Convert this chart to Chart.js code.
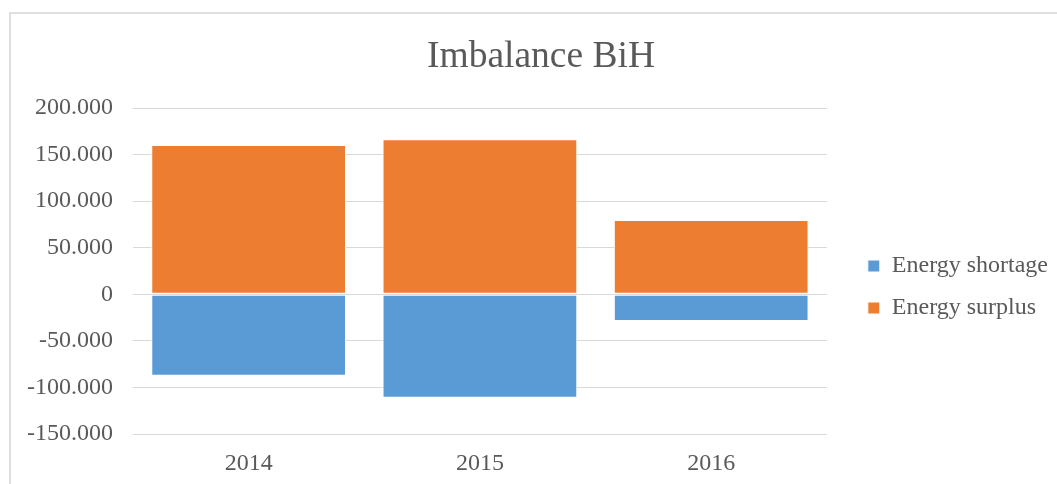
<!DOCTYPE html>
<html>
<head>
<meta charset="utf-8">
<script src="https://cdn.jsdelivr.net/npm/chart.js@4.4.1/dist/chart.umd.min.js"></script>
<style>
  html, body { margin: 0; padding: 0; background: #fff; overflow: hidden; width: 1057px; height: 484px; position: relative; }
  #frame { position: absolute; left: 9px; top: 12px; width: 1060px; height: 480px;
           border-left: 2px solid #dedede; border-top: 2px solid #dedede; background: #fff; }
  #c { position: absolute; left: 7px; top: 14px; display: block; }
</style>
</head>
<body>
<div id="frame"></div>
<canvas id="c" width="1050" height="480"></canvas>
<script>
const chartTitle = "Imbalance BiH";
const categories = ["2014", "2015", "2016"];
const seriesNames = ["Energy shortage", "Energy surplus"];
const energyShortage = [-87400, -111000, -28700];
const energySurplus = [160300, 166400, 79800];
const yTicks = [-150000, -100000, -50000, 0, 50000, 100000, 150000, 200000];

const FONT = "'Liberation Serif', 'Times New Roman', serif";
const TEXT = "#595959";

function fmt(v) {
  const s = Math.abs(v).toString().replace(/\B(?=(\d{3})+(?!\d))/g, ".");
  return (v < 0 ? "-" : "") + s;
}

const placeBlocks = {
  id: 'placeBlocks',
  afterLayout(chart) {
    const lg = chart.legend;
    const ca = chart.chartArea;
    const h = lg.bottom - lg.top;
    lg.left = ca.right + 23;
    lg.right = lg.left + lg.width;
    lg.top = ca.top + 16;
    lg.bottom = lg.top + h;
    const tb = chart.titleBlock;
    tb.left += 20;
    tb.right += 20;
  }
};

new Chart(document.getElementById('c'), {
  type: 'bar',
  data: {
    labels: categories,
    datasets: [
      { label: seriesNames[0], data: energyShortage, backgroundColor: '#5B9BD5',
        borderColor: '#ffffff', borderWidth: 1, borderSkipped: false },
      { label: seriesNames[1], data: energySurplus, backgroundColor: '#ED7D31',
        borderColor: '#ffffff', borderWidth: 1, borderSkipped: false }
    ]
  },
  options: {
    responsive: false,
    devicePixelRatio: 1,
    animation: false,
    layout: { padding: { left: 0, top: 0, right: 22, bottom: 0 } },
    datasets: { bar: { barPercentage: 0.842, categoryPercentage: 1.0 } },
    plugins: {
      title: {
        display: true, text: chartTitle, color: TEXT,
        font: { family: FONT, size: 37.5, weight: 'normal' },
        padding: { top: 21, bottom: 28 }
      },
      legend: {
        display: true, position: 'right', fullSize: false,
        labels: {
          color: TEXT, boxWidth: 12, boxHeight: 12, padding: 18,
          font: { family: FONT, size: 24 }
        }
      },
      tooltip: { enabled: false }
    },
    scales: {
      x: {
        stacked: true,
        grid: { display: false, drawTicks: false },
        border: { display: false },
        ticks: { color: TEXT, padding: 15.6, font: { family: FONT, size: 24 } }
      },
      y: {
        stacked: true,
        min: -150000, max: 200000,
        afterBuildTicks(axis) { axis.ticks = yTicks.map(v => ({ value: v })); },
        grid: { color: '#d9d9d9', lineWidth: 1, drawTicks: false },
        border: { display: false },
        ticks: { color: TEXT, padding: 20, font: { family: FONT, size: 24 }, callback: v => fmt(v) }
      }
    }
  },
  plugins: [placeBlocks]
});
</script>
</body>
</html>
